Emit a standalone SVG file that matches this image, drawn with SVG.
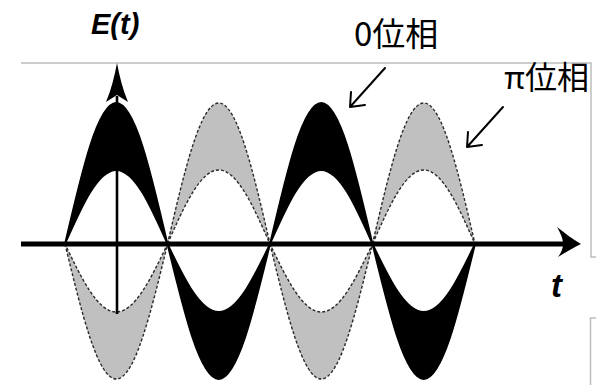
<svg xmlns="http://www.w3.org/2000/svg" width="596" height="385" viewBox="0 0 596 385">
<style>
.frame{fill:none;stroke:#bdbdbd;stroke-width:1.5}
.blk{fill:#000;stroke:#000;stroke-width:1.8;stroke-linejoin:round}
.gry{fill:#c0c0c0;stroke:#2a2a2a;stroke-width:1.4;stroke-dasharray:3 2}
.axis{stroke:#000;fill:none}
.lbl{font-family:"Liberation Sans",Arial,sans-serif;font-style:italic;font-weight:bold;fill:#000}
.cjk{font-family:"Noto Sans CJK JP","Noto Sans CJK SC",sans-serif;fill:#000}
.ptr{fill:none;stroke:#000;stroke-width:2;stroke-linecap:round;stroke-linejoin:round}
</style>
<defs>
<path id="top" d="M0,0 c16.71,-72.23 32.7,-141 51.25,-141 c18.55,0 34.54,68.77 51.25,141 c-16.71,-37.91 -32.7,-74 -51.25,-74 c-18.55,0 -34.54,36.09 -51.25,74 z"/>
<path id="bot" d="M0,0 c16.71,69.16 32.7,135 51.25,135 c18.55,0 34.54,-65.84 51.25,-135 c-16.71,34.84 -32.7,68 -51.25,68 c-18.55,0 -34.54,-33.16 -51.25,-68 z"/>
</defs>
<g id="frame">
<path class="frame" d="M21,63 H591 V257 H596"/>
<path class="frame" d="M596,318 H590.5 V385"/>
</g>
<g id="lobes">
<use href="#top" class="gry" transform="translate(167.5,244)"/>
<use href="#top" class="gry" transform="translate(372.5,244)"/>
<use href="#bot" class="gry" transform="translate(65,244)"/>
<use href="#bot" class="gry" transform="translate(270,244)"/>
<use href="#top" class="blk" transform="translate(65,244)"/>
<use href="#top" class="blk" transform="translate(270,244)"/>
<use href="#bot" class="blk" transform="translate(167.5,244)"/>
<use href="#bot" class="blk" transform="translate(372.5,244)"/>
</g>
<g id="axes">
<line class="axis" x1="117" y1="96" x2="117" y2="314" stroke-width="2.6"/>
<path d="M117,63 C119.5,76 122.5,89 128,102 L117,95 L106,102 C111.5,89 114.5,76 117,63 z" fill="#000"/>
<line class="axis" x1="21" y1="244" x2="566" y2="244" stroke-width="5"/>
<path d="M581,244 C572,239 565,233 557,227 C561,234 563,239 563,244 C563,249 561,253 558,257 C566,252 573,248 581,244 z" fill="#000"/>
</g>
<g id="labels">
<text class="lbl" x="91" y="34" font-size="29">E(t)</text>
<text class="lbl" x="551" y="297" font-size="33">t</text>
<text class="cjk" x="354" y="46" font-size="33">0位相</text>
<text class="cjk" x="504" y="89" font-size="32">π位相</text>
</g>
<g id="connectors">
<path class="ptr" d="M385,68 L350,107 M351,92 L350,107 L365,105"/>
<path class="ptr" d="M503,107 L467,147 M468,132 L467,147 L482,145"/>
</g>
</svg>
